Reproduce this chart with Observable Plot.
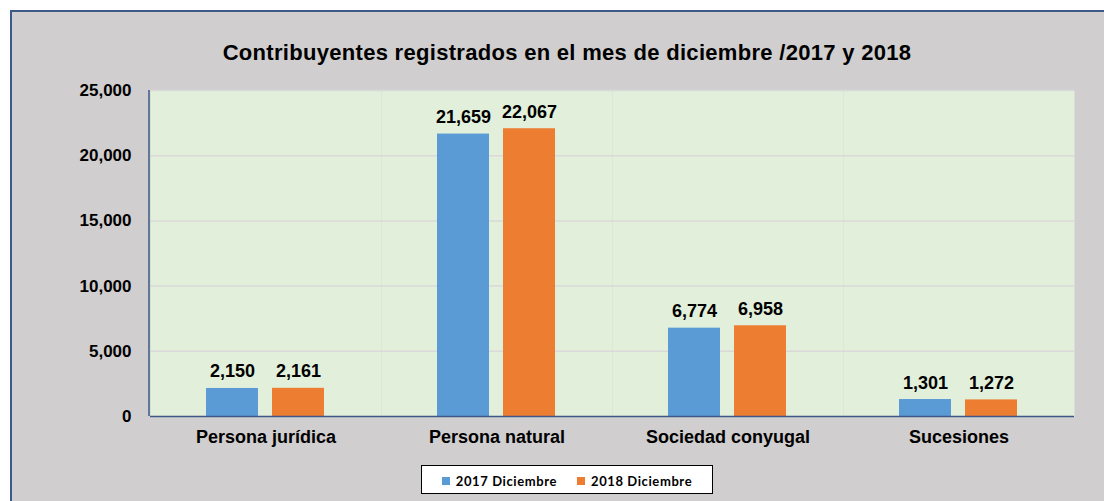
<!DOCTYPE html>
<html>
<head>
<meta charset="utf-8">
<script src="https://cdn.jsdelivr.net/npm/d3@7"></script>
<script src="https://cdn.jsdelivr.net/npm/@observablehq/plot@0.6"></script>
<style>
  html, body { margin: 0; padding: 0; background: #ffffff; width: 1104px; height: 501px; overflow: hidden; }
  #frame { position: absolute; left: 10px; top: 10px; width: 1110px; height: 510px;
           background: #d0cece; border-top: 2px solid #3d5a87; border-left: 2px solid #3d5a87; box-sizing: border-box; }
  #title { position: absolute; left: 0; width: 1134px; top: 40px; text-align: center;
           font: bold 22px "Liberation Sans", Arial, sans-serif; letter-spacing: 0.3px; color: #000; }
  #chart { position: absolute; left: 0; top: 0; }
  #legend { position: absolute; left: 421px; top: 465px; width: 292px; height: 29px; box-sizing: border-box;
            background: #fff; border: 1.5px solid #000; display: flex; align-items: center; justify-content: center;
            gap: 20px; padding-top: 3px; font: bold 13px Lato, "Open Sans", sans-serif; color: #000; letter-spacing: 0.6px; }
  .sw { display: inline-block; width: 8px; height: 8px; margin-right: 6px; vertical-align: 1px; }
</style>
</head>
<body>
<div id="frame"></div>
<div id="title">Contribuyentes registrados en el mes de diciembre /2017 y 2018</div>
<div id="chart"></div>
<div id="legend"></div>
<script>
const categories = ["Persona jurídica", "Persona natural", "Sociedad conyugal", "Sucesiones"];
const series = ["2017 Diciembre", "2018 Diciembre"];
const values2017 = [2150, 21659, 6774, 1301];
const values2018 = [2161, 22067, 6958, 1272];
const colors = ["#5b9bd5", "#ed7d31"];
const yTicks = [0, 5000, 10000, 15000, 20000, 25000];

const data = [];
categories.forEach((c, i) => {
  data.push({category: c, series: series[0], value: values2017[i]});
  data.push({category: c, series: series[1], value: values2018[i]});
});

const fmt = d3.format(",");
const font = '"Liberation Sans", Arial, sans-serif';

const chart = Plot.plot({
  width: 1104,
  height: 501,
  marginLeft: 149,
  marginRight: 30,
  marginTop: 90,
  marginBottom: 85,
  style: {background: "transparent", fontFamily: font, color: "#000", overflow: "visible"},
  fx: {domain: categories, padding: 0, label: null, axis: null},
  x: {domain: series, paddingInner: 0.212, paddingOuter: 0.856, axis: null},
  y: {domain: [0, 25000], ticks: yTicks, label: null, axis: null},
  color: {domain: series, range: colors},
  marks: [
    Plot.frame({fill: "#e2efda", stroke: null}),
    Plot.ruleY(yTicks.filter(d => d > 0), {stroke: "#d9d9d9", strokeWidth: 1.5}),
    Plot.barY(data, {fx: "category", x: "series", y: "value", fill: "series"}),
    Plot.text(data, {fx: "category", x: "series", y: "value", text: d => fmt(d.value),
      lineAnchor: "bottom", dy: -11, fontSize: 18, fontWeight: "bold", fill: "#000"}),
    Plot.axisY({ticks: yTicks, tickFormat: fmt, tickSize: 0, tickPadding: 19, fontSize: 17, fontWeight: "bold",
      label: null, anchor: "left", style: {letterSpacing: "0.5px"}}),
    Plot.axisFx({anchor: "bottom", tickSize: 0, tickPadding: 14, fontSize: 18, fontWeight: "bold", label: null,
      lineAnchor: "top", style: {letterSpacing: "0.3px"}}),
    Plot.ruleY([0], {stroke: "#3d5a87", strokeWidth: 1.5})
  ]
});
document.getElementById("chart").appendChild(chart);

// left axis line across full plot height
const svg = d3.select(chart);
svg.append("line")
  .attr("x1", 149).attr("x2", 149)
  .attr("y1", 90).attr("y2", 416)
  .attr("stroke", "#3d5a87").attr("stroke-width", 1.5);

const legend = document.getElementById("legend");
series.forEach((s, i) => {
  const item = document.createElement("span");
  item.innerHTML = `<span class="sw" style="background:${colors[i]}"></span>${s}`;
  legend.appendChild(item);
});
</script>
</body>
</html>
